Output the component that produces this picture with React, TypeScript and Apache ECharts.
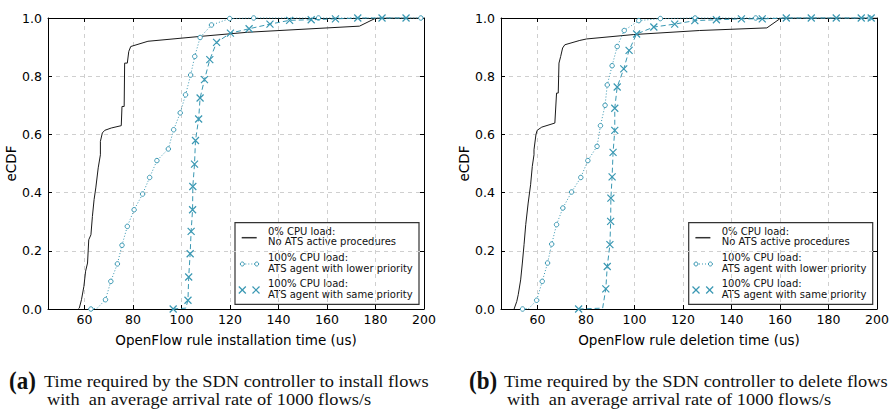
import React, { useEffect, useRef } from "react";
import * as echarts from "echarts";

type P = [number, number];

const X_TICKS = [60, 80, 100, 120, 140, 160, 180, 200];
const X_MIN = 45;
const X_MAX = 200;

const AXIS_TITLES = ["OpenFlow rule installation time (us)", "OpenFlow rule deletion time (us)"];
const Y_TITLE = "eCDF";
const LEGEND_TEXT = [
  ["0% CPU load:", "No ATS active procedures"],
  ["100% CPU load:", "ATS agent with lower priority"],
  ["100% CPU load:", "ATS agent with same priority"],
];
const CAPTION_TAGS = ["(a)", "(b)"];
const CAPTION_LINE1 = [
  "Time required by the SDN controller to install flows",
  "Time required by the SDN controller to delete flows",
];
const CAPTION_LINE2 = "with  an average arrival rate of 1000 flows/s";

// (a) installation
const installBaseline: P[] = [
  [57.5, 0], [57.9, 0.003], [58.8, 0.032], [59.8, 0.078], [60.5, 0.13], [61.3, 0.158], [61.8, 0.238],
  [62.7, 0.255], [63.3, 0.318], [64, 0.376], [64.7, 0.416], [65.7, 0.485], [66.6, 0.53], [66.6, 0.576],
  [67.4, 0.605], [68.4, 0.614], [71.1, 0.622], [75.2, 0.63], [75.5, 0.696], [76.4, 0.696], [76.6, 0.845],
  [77.7, 0.845], [78.3, 0.885], [79.1, 0.902], [86.2, 0.92], [108.1, 0.937], [127.3, 0.951], [173.4, 0.972],
  [179.5, 0.997], [180.5, 1], [200, 1],
];
const installLower: P[] = [
  [62.7, 0], [68.7, 0.032], [70.9, 0.095], [73.6, 0.155], [75.5, 0.219], [77.7, 0.284], [80.5, 0.341],
  [84, 0.395], [86.9, 0.452], [89.9, 0.51], [94.6, 0.55], [96.8, 0.616], [99.5, 0.674], [101.7, 0.736],
  [103.8, 0.804], [105.5, 0.868], [107.7, 0.933], [112.4, 0.976], [119.9, 0.998], [129.8, 1], [156.5, 1],
  [198.7, 1],
];
const installLowerBend: P = [65.3, 0.003];
const installSame: P[] = [
  [96.6, 0], [102.7, 0.03], [103, 0.11], [103.6, 0.19], [104, 0.267], [104.6, 0.341], [104.7, 0.421],
  [105.4, 0.498], [105.8, 0.579], [107.1, 0.653], [107.7, 0.725], [109.5, 0.788], [111.7, 0.857],
  [114.5, 0.916], [120.2, 0.948], [127.9, 0.963], [136.5, 0.979], [144.6, 0.992], [153.5, 0.994],
  [163.5, 0.997], [172.7, 1], [182.7, 1], [192.6, 1],
];
const installSameBend: P = [101.8, 0.003];

// (b) deletion
const deleteBaseline: P[] = [
  [50.4, 0], [51.5, 0.026], [52.1, 0.049], [53.1, 0.1], [53.8, 0.158], [54.5, 0.221], [55.2, 0.29],
  [56.2, 0.364], [57.2, 0.427], [57.9, 0.49], [58.6, 0.53], [58.6, 0.547], [59.4, 0.599], [59.9, 0.614],
  [61.8, 0.625], [67.2, 0.639], [67.9, 0.742], [68.6, 0.742], [68.9, 0.845], [69.6, 0.868], [70.4, 0.897],
  [71.3, 0.908], [77.5, 0.923], [80.3, 0.928], [99.5, 0.943], [126.9, 0.957], [154.6, 0.966],
  [159.9, 0.997], [161, 1], [200, 1],
];
const deleteLower: P[] = [
  [53.9, 0], [59.7, 0.03], [62, 0.095], [64.2, 0.158], [65.9, 0.223], [67.9, 0.29], [70.5, 0.347],
  [74.1, 0.402], [77.9, 0.452], [80.8, 0.51], [84.6, 0.559], [86, 0.63], [87.9, 0.7], [88.8, 0.77],
  [90.8, 0.836], [92.9, 0.902], [95.8, 0.957], [101.8, 0.991], [110.7, 0.998], [125, 1], [150, 1], [197, 1],
];
const deleteLowerBend: P = [56.5, 0.002];
const deleteSame: P[] = [
  [77, 0], [88.2, 0.069], [88.8, 0.146], [89.9, 0.221], [90.2, 0.301], [90.3, 0.381], [90.8, 0.454],
  [91.2, 0.538], [91.9, 0.614], [91.9, 0.69], [92.9, 0.763], [95.6, 0.825], [97.8, 0.889], [100.9, 0.945],
  [108, 0.969], [116.6, 0.979], [124.9, 0.991], [133.8, 0.994], [144.1, 0.997], [152.7, 0.997],
  [162.6, 1], [172.9, 1], [183.2, 1], [193.5, 1], [197.6, 1],
];
const deleteSameBend: P = [86.9, 0.003];

const TEAL = "#3a98b3";
const X_SYMBOL = "path://M0 0L10 10M10 0L0 10";
const SANS = '"DejaVu Sans", sans-serif';
const SERIF = '"Liberation Serif", serif';

const GRIDS = [
  { left: 48, top: 18, width: 376, height: 291 },
  { left: 501, top: 18, width: 376, height: 291 },
];

function withBend(markers: P[], bend: P) {
  const items: any[] = markers.map((p) => ({ value: p }));
  items.push({ value: bend, symbol: "none" });
  items.sort((a, b) => a.value[1] - b.value[1] || a.value[0] - b.value[0]);
  return items;
}

function legendGroup(x: number, y: number): any {
  const children: any[] = [
    { type: "rect", shape: { x: 0, y: 0, width: 184, height: 81.6 }, style: { fill: "#fff", stroke: "#333", lineWidth: 1.2 } },
    { type: "line", shape: { x1: 6.7, y1: 15, x2: 21.7, y2: 15 }, style: { stroke: "#333", lineWidth: 1.5 } },
    { type: "line", shape: { x1: 7.3, y1: 41.3, x2: 21.7, y2: 41.3 }, style: { stroke: TEAL, lineWidth: 1, lineDash: [1, 2] } },
    { type: "circle", shape: { cx: 7.3, cy: 41.3, r: 2 }, style: { fill: "#fff", stroke: TEAL, lineWidth: 1 } },
    { type: "circle", shape: { cx: 21.7, cy: 41.3, r: 2 }, style: { fill: "#fff", stroke: TEAL, lineWidth: 1 } },
  ];
  [7.3, 21].forEach((cx) => {
    children.push({ type: "line", shape: { x1: cx - 3.5, y1: 67.3 - 3.5, x2: cx + 3.5, y2: 67.3 + 3.5 }, style: { stroke: TEAL, lineWidth: 1.2 } });
    children.push({ type: "line", shape: { x1: cx - 3.5, y1: 67.3 + 3.5, x2: cx + 3.5, y2: 67.3 - 3.5 }, style: { stroke: TEAL, lineWidth: 1.2 } });
  });
  const ys = [[8.6, 19.3], [35, 46], [61, 72.3]];
  LEGEND_TEXT.forEach((lines, i) => {
    lines.forEach((t, j) => {
      children.push({
        type: "text",
        style: { text: t, x: 33, y: ys[i][j], fill: "#111", font: `10px ${SANS}`, verticalAlign: "middle", align: "left" },
      });
    });
  });
  return { type: "group", x, y, z: 100, children };
}

function captionGroup(i: number, x: number): any {
  return [
    { type: "text", x: x, y: 381, scaleX: 0.92, z: 100, style: { text: CAPTION_TAGS[i], font: `bold 25px ${SERIF}`, fill: "#111", verticalAlign: "middle", align: "left" } },
    { type: "text", x: x + 35, y: 381, scaleX: 1.08, z: 100, style: { text: CAPTION_LINE1[i], font: `17px ${SERIF}`, fill: "#111", verticalAlign: "middle", align: "left" } },
    { type: "text", x: x + 38, y: 399, scaleX: 1.08, z: 100, style: { text: CAPTION_LINE2, font: `17px ${SERIF}`, fill: "#111", verticalAlign: "middle", align: "left" } },
  ];
}

export default function App() {
  const ref = useRef<HTMLDivElement>(null);
  useEffect(() => {
    if (!ref.current) return;
    const chart = echarts.init(ref.current, undefined, { renderer: "svg" });
    const gridLine = { show: true, lineStyle: { color: "#cfcfcf", type: [4, 4] as any, width: 1 } };
    const xAxes: any[] = [];
    const yAxes: any[] = [];
    GRIDS.forEach((_, g) => {
      xAxes.push({
        type: "value", gridIndex: g, position: "bottom", min: X_MIN, max: X_MAX,
        name: AXIS_TITLES[g], nameLocation: "middle", nameGap: 24,
        nameTextStyle: { fontFamily: SANS, fontSize: 13.5, color: "#000" },
        axisLine: { show: true, onZero: false, lineStyle: { color: "#000", width: 1 } },
        axisTick: { show: true, inside: true, length: 4, customValues: X_TICKS, lineStyle: { color: "#000" } },
        axisLabel: { customValues: X_TICKS, fontFamily: SANS, fontSize: 12.5, color: "#000", margin: 4, formatter: (v: number) => String(v) },
        splitLine: gridLine,
      });
      xAxes.push({
        type: "value", gridIndex: g, position: "top", min: X_MIN, max: X_MAX,
        axisLine: { show: true, onZero: false, lineStyle: { color: "#000", width: 1 } },
        axisTick: { show: true, inside: true, length: 4, customValues: X_TICKS, lineStyle: { color: "#000" } },
        axisLabel: { show: false },
        splitLine: { show: false },
      });
      yAxes.push({
        type: "value", gridIndex: g, position: "left", min: 0, max: 1, interval: 0.2,
        name: Y_TITLE, nameLocation: "middle", nameGap: 26,
        nameTextStyle: { fontFamily: SANS, fontSize: 13.5, color: "#000" },
        axisLine: { show: true, onZero: false, lineStyle: { color: "#000", width: 1 } },
        axisTick: { show: true, inside: true, length: 4, lineStyle: { color: "#000" } },
        axisLabel: { fontFamily: SANS, fontSize: 12.5, color: "#000", margin: 6, formatter: (v: number) => v.toFixed(1) },
        splitLine: gridLine,
      });
      yAxes.push({
        type: "value", gridIndex: g, position: "right", min: 0, max: 1, interval: 0.2,
        axisLine: { show: true, onZero: false, lineStyle: { color: "#000", width: 1 } },
        axisTick: { show: true, inside: true, length: 4, lineStyle: { color: "#000" } },
        axisLabel: { show: false },
        splitLine: { show: false },
      });
    });

    const sets = [
      { base: installBaseline, lower: withBend(installLower, installLowerBend), same: withBend(installSame, installSameBend) },
      { base: deleteBaseline, lower: withBend(deleteLower, deleteLowerBend), same: withBend(deleteSame, deleteSameBend) },
    ];
    const series: any[] = [];
    sets.forEach((s, g) => {
      const ax = { xAxisIndex: g * 2, yAxisIndex: g * 2 };
      series.push({
        type: "line", ...ax, data: s.base, symbol: "none", silent: true, z: 2,
        lineStyle: { color: "#1a1a1a", width: 1 },
      });
      series.push({
        type: "line", ...ax, data: s.lower, symbol: "circle", symbolSize: 4.5, silent: true, clip: false, z: 3,
        itemStyle: { color: "#fff", borderColor: TEAL, borderWidth: 1 },
        lineStyle: { color: TEAL, width: 1, type: [1, 2] },
      });
      series.push({
        type: "line", ...ax, data: s.same, symbol: X_SYMBOL, symbolSize: 7, silent: true, clip: false, z: 4,
        itemStyle: { color: "rgba(0,0,0,0)", borderColor: TEAL, borderWidth: 1.2 },
        lineStyle: { color: TEAL, width: 1, type: [5, 3] },
      });
    });

    chart.setOption({
      animation: false,
      backgroundColor: "#fff",
      grid: GRIDS.map((g) => ({ ...g, containLabel: false })),
      xAxis: xAxes,
      yAxis: yAxes,
      series,
      graphic: [
        legendGroup(235, 222.7),
        legendGroup(688.7, 222.7),
        ...captionGroup(0, 9),
        ...captionGroup(1, 469),
      ],
    });
    return () => chart.dispose();
  }, []);
  return <div ref={ref} style={{ position: "absolute", left: 0, top: 0, width: 893, height: 410 }} />;
}
